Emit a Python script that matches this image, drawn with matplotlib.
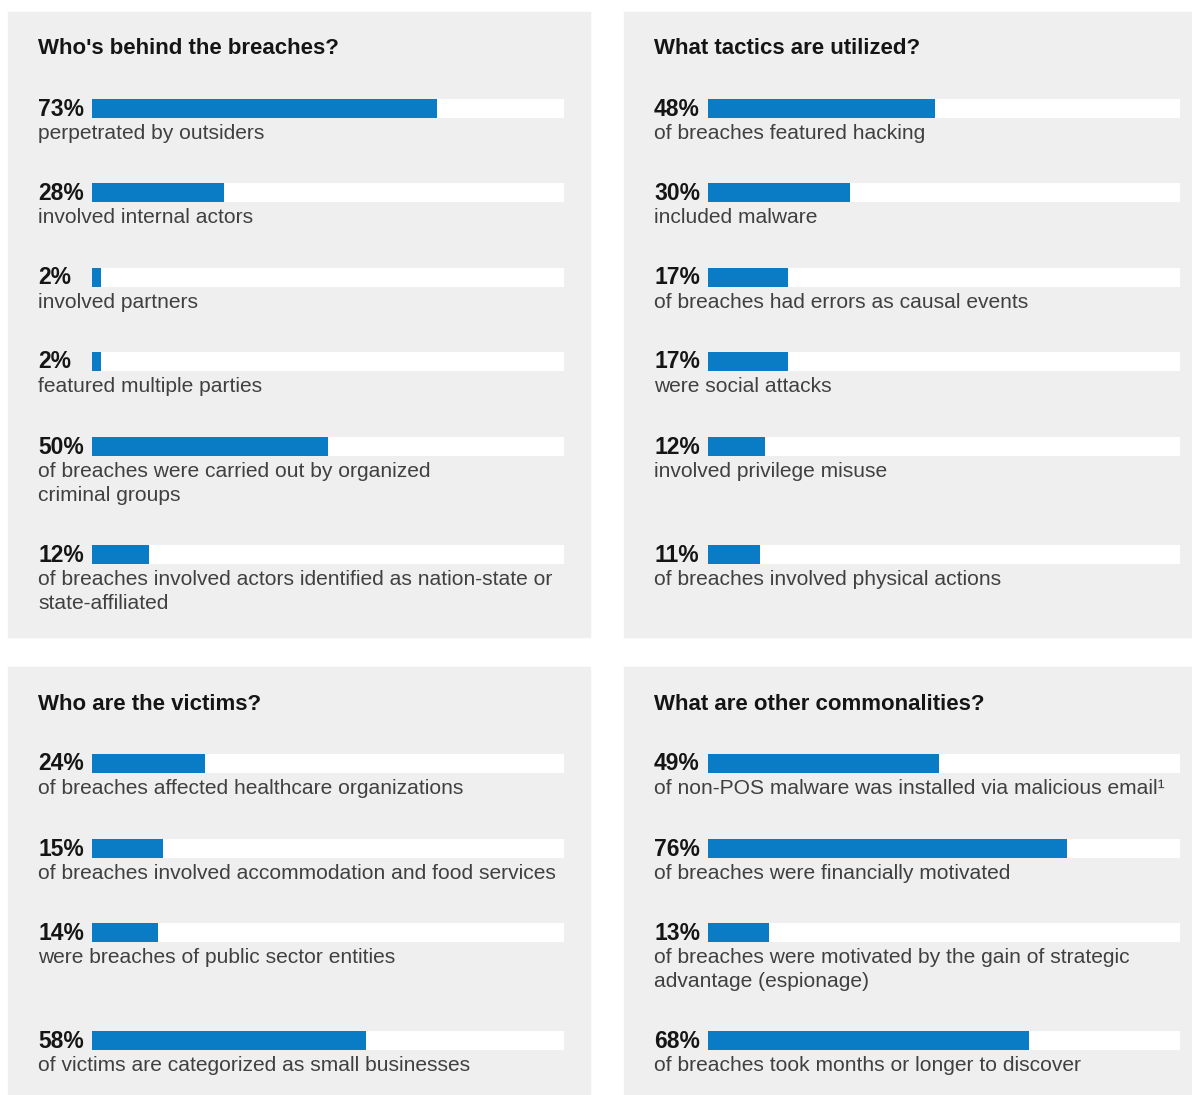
import matplotlib.pyplot as plt
from matplotlib.patches import Rectangle

plt.rcParams['font.family'] = ['Liberation Sans', 'DejaVu Sans']

# panel titles
titles = ["Who's behind the breaches?", "What tactics are utilized?",
          "Who are the victims?", "What are other commonalities?"]

# values (%) and their descriptions for each panel
actors_vals = [73, 28, 2, 2, 50, 12]
actors_text = ["perpetrated by outsiders",
               "involved internal actors",
               "involved partners",
               "featured multiple parties",
               "of breaches were carried out by organized\ncriminal groups",
               "of breaches involved actors identified as nation-state or\nstate-affiliated"]

tactics_vals = [48, 30, 17, 17, 12, 11]
tactics_text = ["of breaches featured hacking",
                "included malware",
                "of breaches had errors as causal events",
                "were social attacks",
                "involved privilege misuse",
                "of breaches involved physical actions"]

victims_vals = [24, 15, 14, 58]
victims_text = ["of breaches affected healthcare organizations",
                "of breaches involved accommodation and food services",
                "were breaches of public sector entities",
                "of victims are categorized as small businesses"]

common_vals = [49, 76, 13, 68]
common_text = ["of non-POS malware was installed via malicious email\u00b9",
               "of breaches were financially motivated",
               "of breaches were motivated by the gain of strategic\nadvantage (espionage)",
               "of breaches took months or longer to discover"]

W, H = 1192, 1095
BLUE = '#0a7cc6'
PANEL = '#efefef'
TRACK = 472          # px for 100 %
SCALE = TRACK / 100

fig = plt.figure(figsize=(W / 100, H / 100), dpi=100)
ax = fig.add_axes([0, 0, 1, 1])
ax.set_xlim(0, W)
ax.set_ylim(H, 0)
ax.axis('off')

# panel layout: (x0, x1, y0, y1, title y, row y positions)
top_rows = [108, 192, 277, 361, 446, 554]
bot_rows = [763, 848, 932, 1040]
panels = [
    (8, 590, 12, 637, 48, top_rows, actors_vals, actors_text),
    (624, 1206, 12, 637, 48, top_rows, tactics_vals, tactics_text),
    (8, 590, 667, 1095, 704, bot_rows, victims_vals, victims_text),
    (624, 1206, 667, 1095, 704, bot_rows, common_vals, common_text),
]

for i, (x0, x1, y0, y1, ty, rows, vals, texts) in enumerate(panels):
    ax.add_patch(Rectangle((x0, y0), x1 - x0, y1 - y0, color=PANEL, zorder=0))
    tx = x0 + 30
    bx = x0 + 84
    ax.text(tx, ty, titles[i], fontsize=16, fontweight='bold', color='#151515',
            va='center', ha='left')
    # white track behind each bar
    ax.barh(rows, [TRACK] * len(rows), left=bx, height=19,
            color='white', zorder=1)
    ax.barh(rows, [v * SCALE for v in vals], left=bx, height=19,
            color=BLUE, zorder=2)
    for y, v, t in zip(rows, vals, texts):
        ax.text(tx, y + 1, f'{v}%', fontsize=16.5, fontweight='bold',
                color='#151515', va='center', ha='left')
        ax.text(tx, y + 16, t, fontsize=15.1, color='#404040', va='top',
                ha='left', linespacing=1.32)

fig.savefig('out.png', dpi=100, facecolor='white')
